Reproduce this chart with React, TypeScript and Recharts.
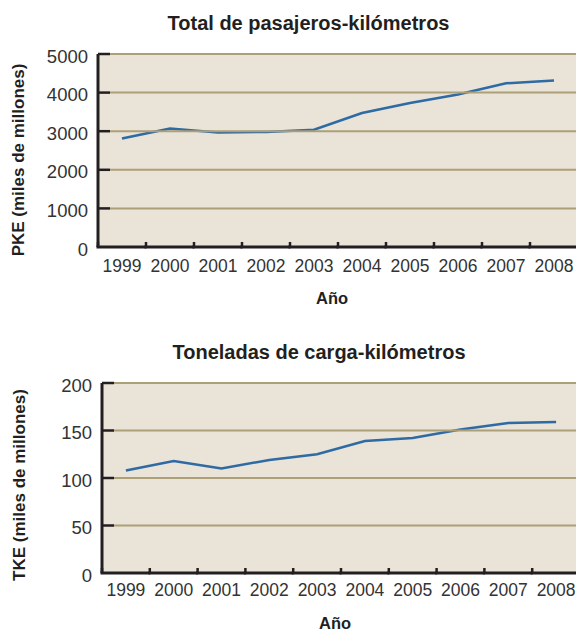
import { LineChart, Line, XAxis, YAxis } from 'recharts';

const years = [1999, 2000, 2001, 2002, 2003, 2004, 2005, 2006, 2007, 2008];
const pkeValues = [2810, 3070, 2965, 2980, 3040, 3470, 3730, 3950, 4240, 4315];
const tkeValues = [108, 118, 110, 119, 125, 139, 142, 151, 158, 159];
const pkeTicks = [0, 1000, 2000, 3000, 4000, 5000];
const tkeTicks = [0, 50, 100, 150, 200];
// x ticks sit on the left border of each year band, the label goes in the middle
const yearStarts = years.map((y) => y - 0.5);

const FONT = '"Liberation Sans", Arial, Helvetica, sans-serif';
const INK = '#231f20';
const TEXT = '#333333';
const BG = '#e9e3d8';
const GRID = '#ad9f77';
const LINE = '#2e6aa3';

const pkeData = years.map((year, i) => ({ year, value: pkeValues[i] }));
const tkeData = years.map((year, i) => ({ year, value: tkeValues[i] }));

const noLabel = () => <g />;

function Caption({ text, x, baseline, size }: { text: string; x: number; baseline: number; size: number }) {
  return (
    <div
      style={{
        position: 'absolute',
        left: x,
        top: baseline - size * 0.8465,
        transform: 'translateX(-50%)',
        fontSize: size,
        lineHeight: `${size}px`,
        fontWeight: 700,
        whiteSpace: 'nowrap',
        color: INK,
      }}
    >
      {text}
    </div>
  );
}

function SideLabel({ text, x, y }: { text: string; x: number; y: number }) {
  return (
    <div
      style={{
        position: 'absolute',
        left: x,
        top: y,
        transform: 'translate(-50%, -50%) rotate(-90deg)',
        fontSize: 17,
        lineHeight: '17px',
        fontWeight: 700,
        whiteSpace: 'nowrap',
        color: INK,
      }}
    >
      {text}
    </div>
  );
}

interface PanelProps {
  data: { year: number; value: number }[];
  yTicks: number[];
  top: number;
  width: number;
  height: number;
  axisWidth: number;
  marginTop: number;
  xAxisHeight: number;
  labelGap: number;
}

function TrendPanel({ data, yTicks, top, width, height, axisWidth, marginTop, xAxisHeight, labelGap }: PanelProps) {
  const yMax = yTicks[yTicks.length - 1];
  const domainX: [number, number] = [years[0] - 0.5, years[years.length - 1] + 0.5];
  const plotW = width - axisWidth;
  const plotH = height - marginTop - xAxisHeight;
  const band = plotW / years.length;

  // per band: piece of the x axis line, short upward stub on the border, year label in the middle
  const yearTick = (p: any) => {
    const axisY = p.y - labelGap;
    return (
      <g>
        <line x1={p.x - 1.5} x2={p.x + band + 0.5} y1={axisY} y2={axisY} stroke={INK} strokeWidth={3} />
        <line x1={p.x} x2={p.x} y1={axisY - 5} y2={axisY} stroke={INK} strokeWidth={2.5} />
        <text x={p.x + band / 2} y={p.y} dy="0.71em" textAnchor="middle" fontSize={17.5} fill={TEXT}>
          {p.payload.value + 0.5}
        </text>
      </g>
    );
  };

  return (
    <div style={{ position: 'absolute', left: 0, top, width, height }}>
      {/* beige plot panel behind the svg */}
      <div style={{ position: 'absolute', left: axisWidth, top: marginTop, width: plotW, height: plotH, background: BG }} />
      <div style={{ position: 'absolute', left: 0, top: 0 }}>
        <LineChart width={width} height={height} data={data} margin={{ top: marginTop, right: 0, bottom: 0, left: 0 }}>
          <XAxis
            dataKey="year"
            type="number"
            domain={domainX}
            ticks={yearStarts}
            allowDataOverflow
            interval={0}
            height={xAxisHeight}
            axisLine={false}
            tickLine={false}
            tickSize={0}
            tickMargin={labelGap}
            tick={yearTick}
          />
          <YAxis
            type="number"
            domain={[0, yMax]}
            ticks={yTicks}
            allowDataOverflow
            interval={0}
            width={axisWidth}
            axisLine={false}
            tickLine={false}
            tickSize={0}
            tickMargin={10}
            tick={(p: any) => (
              <text x={p.x} y={p.y} dy={8.5} textAnchor="end" fontSize={18.5} fill={TEXT} stroke="none">
                {p.payload.value}
              </text>
            )}
          />
          {/* y axis line + short black ticks (mirrored axes stack by id, this one sits on the plot edge) */}
          <YAxis
            yAxisId="axisMarks"
            type="number"
            domain={[0, yMax]}
            ticks={yTicks.slice(1)}
            allowDataOverflow
            interval={0}
            mirror
            width={12}
            stroke={INK}
            strokeWidth={3}
            axisLine={{ stroke: INK, strokeWidth: 3 }}
            tick={noLabel}
            tickSize={12}
            tickLine={{ stroke: INK, strokeWidth: 2.5 }}
          />
          {/* horizontal gridlines, starting where the black ticks end */}
          <YAxis
            yAxisId="gridLines"
            type="number"
            domain={[0, yMax]}
            ticks={yTicks.slice(1)}
            allowDataOverflow
            interval={0}
            mirror
            width={12}
            axisLine={false}
            tick={noLabel}
            tickSize={plotW}
            tickLine={{ stroke: GRID, strokeWidth: 2 }}
          />
          <Line type="linear" dataKey="value" stroke={LINE} strokeWidth={2.5} dot={false} isAnimationActive={false} />
        </LineChart>
      </div>
    </div>
  );
}

export default function App() {
  return (
    <div
      style={{
        position: 'absolute',
        left: 0,
        top: 0,
        width: 576,
        height: 632,
        overflow: 'hidden',
        background: '#ffffff',
        fontFamily: FONT,
      }}
    >
      <Caption text="Total de pasajeros-kilómetros" x={308.5} baseline={30} size={20} />
      <TrendPanel
        data={pkeData}
        yTicks={pkeTicks}
        top={0}
        width={578}
        height={320}
        axisWidth={98}
        marginTop={54}
        xAxisHeight={73}
        labelGap={13}
      />
      <SideLabel text="PKE (miles de millones)" x={18} y={160} />
      <Caption text="Año" x={332} baseline={304.3} size={16.5} />

      <Caption text="Toneladas de carga-kilómetros" x={319} baseline={359} size={20} />
      <TrendPanel
        data={tkeData}
        yTicks={tkeTicks}
        top={320}
        width={580}
        height={312}
        axisWidth={102}
        marginTop={63}
        xAxisHeight={59}
        labelGap={11}
      />
      <SideLabel text="TKE (miles de millones)" x={19.3} y={485} />
      <Caption text="Año" x={335} baseline={629.3} size={16.5} />
    </div>
  );
}
